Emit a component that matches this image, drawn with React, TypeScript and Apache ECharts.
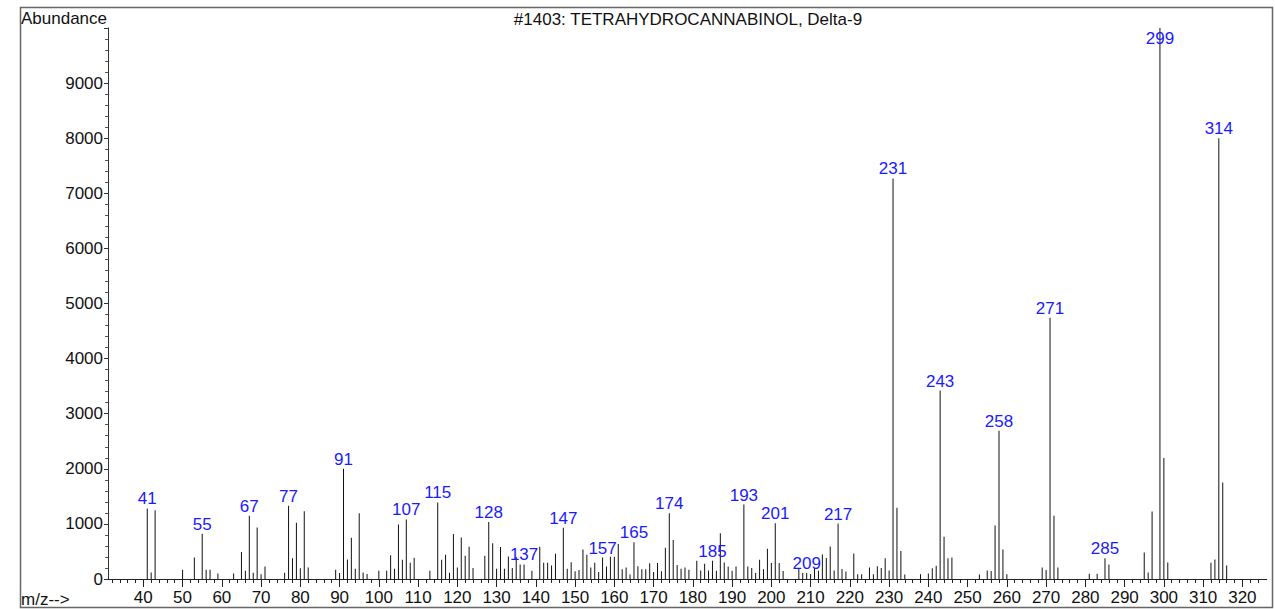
import React, { useEffect, useRef } from "react";
import * as echarts from "echarts";

const MZ = [
  41, 42, 43, 50, 53, 55, 56, 57, 59, 63, 65, 66, 67, 68, 69, 70, 71, 76, 77, 78, 79, 80, 81, 82,
  89, 90, 91, 92, 93, 94, 95, 96, 97, 100, 102, 103, 104, 105, 106, 107, 108, 109, 113, 115, 116,
  117, 118, 119, 120, 121, 122, 123, 124, 127, 128, 129, 130, 131, 132, 133, 134, 135, 136, 137,
  139, 141, 142, 143, 144, 145, 147, 148, 149, 150, 151, 152, 153, 154, 155, 156, 157, 158, 159,
  160, 161, 162, 163, 164, 165, 166, 167, 168, 169, 170, 171, 172, 173, 174, 175, 176, 177, 178,
  179, 181, 182, 183, 184, 185, 186, 187, 188, 189, 190, 191, 193, 194, 195, 196, 197, 198, 199,
  200, 201, 202, 203, 207, 208, 209, 210, 211, 212, 213, 214, 215, 216, 217, 218, 219, 221, 222,
  223, 225, 226, 227, 228, 229, 230, 231, 232, 233, 234, 238, 240, 241, 242, 243, 244, 245, 246,
  253, 255, 256, 257, 258, 259, 260, 269, 270, 271, 272, 273, 281, 283, 285, 286, 295, 296, 297,
  299, 300, 301, 312, 313, 314, 315, 316,
];

const ABUNDANCE = [
  1280, 120, 1250, 170, 390, 820, 170, 170, 100, 100, 490, 150, 1150, 115, 935, 85, 225, 115, 1330,
  375, 1020, 195, 1230, 210, 170, 110, 2000, 355, 750, 185, 1195, 120, 90, 150, 150, 430, 185, 990,
  350, 1080, 295, 385, 150, 1390, 350, 440, 115, 815, 210, 755, 420, 585, 200, 420, 1035, 650, 185,
  580, 185, 410, 200, 400, 265, 265, 150, 585, 295, 295, 245, 460, 930, 185, 305, 140, 165, 535,
  440, 210, 295, 125, 390, 225, 405, 405, 635, 175, 210, 80, 665, 230, 175, 175, 285, 125, 290,
  140, 565, 1195, 710, 255, 185, 210, 170, 330, 155, 275, 155, 330, 150, 830, 300, 225, 150, 225,
  1350, 225, 200, 110, 350, 175, 550, 290, 1010, 290, 145, 200, 110, 110, 90, 200, 150, 445, 380,
  590, 155, 1005, 180, 135, 465, 85, 85, 210, 85, 230, 200, 375, 155, 7270, 1295, 510, 80, 85, 100,
  195, 240, 3420, 765, 375, 390, 80, 155, 145, 970, 2690, 535, 85, 210, 165, 4740, 1150, 210, 95,
  95, 375, 265, 480, 120, 1225, 10000, 2195, 300, 295, 355, 8000, 1750, 245,
];

const LABELED = [
  41, 55, 67, 77, 91, 107, 115, 128, 137, 147, 157, 165, 174, 185, 193, 201, 209, 217, 231, 243,
  258, 271, 285, 299, 314,
];

const X_MAJOR = [40, 50, 60, 70, 80, 90, 100, 110, 120, 130, 140, 150, 160, 170, 180, 190, 200, 210, 220, 230, 240, 250, 260, 270, 280, 290, 300, 310, 320];
const X_MINOR = [32, 34, 36, 38, 42, 44, 46, 48, 52, 54, 56, 58, 62, 64, 66, 68, 72, 74, 76, 78, 82, 84, 86, 88, 92, 94, 96, 98, 102, 104, 106, 108, 112, 114, 116, 118, 122, 124, 126, 128, 132, 134, 136, 138, 142, 144, 146, 148, 152, 154, 156, 158, 162, 164, 166, 168, 172, 174, 176, 178, 182, 184, 186, 188, 192, 194, 196, 198, 202, 204, 206, 208, 212, 214, 216, 218, 222, 224, 226, 228, 232, 234, 236, 238, 242, 244, 246, 248, 252, 254, 256, 258, 262, 264, 266, 268, 272, 274, 276, 278, 282, 284, 286, 288, 292, 294, 296, 298, 302, 304, 306, 308, 312, 314, 316, 318, 322, 324];

const TITLE = "#1403: TETRAHYDROCANNABINOL, Delta-9";
const FONT = "'Liberation Sans', Arial, sans-serif";

export default function App() {
  const ref = useRef<HTMLDivElement>(null);
  useEffect(() => {
    if (!ref.current) return;
    const chart = echarts.init(ref.current, undefined, { renderer: "svg" });
    const data = MZ.map((m, i) => {
      const lab = LABELED.includes(m);
      const item: any = { value: [m, ABUNDANCE[i]], label: { show: lab } };
      if (m === 299) item.label = { show: true, position: "insideTop", distance: 2 };
      return item;
    });
    chart.setOption({
      animation: false,
      grid: { left: 108, right: 8.3, top: 28, bottom: 30 },
      xAxis: [
        {
          type: "value",
          min: 31,
          max: 326.2,
          position: "bottom",
          axisLine: { show: true, onZero: false, lineStyle: { color: "#222", width: 1 } },
          axisTick: { show: true, customValues: X_MAJOR, length: 8, lineStyle: { color: "#222" } },
          axisLabel: { customValues: X_MAJOR, fontSize: 17, color: "#111", margin: 10, fontFamily: FONT },
          splitLine: { show: false },
        },
        {
          type: "value",
          min: 31,
          max: 326.2,
          position: "bottom",
          axisLine: { show: false },
          axisTick: { show: true, customValues: X_MINOR, length: 4, lineStyle: { color: "#222" } },
          axisLabel: { show: false },
          splitLine: { show: false },
        },
      ],
      yAxis: {
        type: "value",
        min: 0,
        max: 10000,
        interval: 1000,
        axisLine: { show: true, lineStyle: { color: "#333", width: 1 } },
        axisTick: { show: true, length: 4, lineStyle: { color: "#333" } },
        minorTick: { show: true, splitNumber: 5, length: 3, lineStyle: { color: "#555" } },
        axisLabel: {
          fontSize: 17,
          color: "#111",
          margin: 5,
          fontFamily: FONT,
          showMaxLabel: false,
          formatter: (v: number) => String(v),
        },
        splitLine: { show: false },
      },
      series: [
        {
          type: "bar",
          xAxisIndex: 0,
          barWidth: 1,
          itemStyle: { color: "#111" },
          label: {
            position: "top",
            distance: 1,
            color: "#1a1aff",
            fontSize: 17,
            fontFamily: FONT,
            formatter: (p: any) => String(p.value[0]),
          },
          data,
        },
      ],
      graphic: [
        {
          type: "rect",
          shape: { x: 20.5, y: 7.5, width: 1252, height: 600 },
          style: { fill: "none", stroke: "#666", lineWidth: 1.5 },
          silent: true,
        },
        {
          type: "text",
          x: 21,
          y: 18,
          style: { text: "Abundance", fontSize: 17, fontFamily: FONT, fill: "#111", verticalAlign: "middle" },
        },
        {
          type: "text",
          x: 688,
          y: 19,
          style: { text: TITLE, fontSize: 17, fontFamily: FONT, fill: "#111", align: "center", verticalAlign: "middle" },
        },
        {
          type: "text",
          x: 21,
          y: 599,
          style: { text: "m/z-->", fontSize: 17, fontFamily: FONT, fill: "#111", verticalAlign: "middle" },
        },
      ],
    });
    return () => chart.dispose();
  }, []);
  return (
    <div
      ref={ref}
      style={{ position: "fixed", left: 0, top: 0, width: 1275, height: 609, background: "#fff" }}
    />
  );
}
